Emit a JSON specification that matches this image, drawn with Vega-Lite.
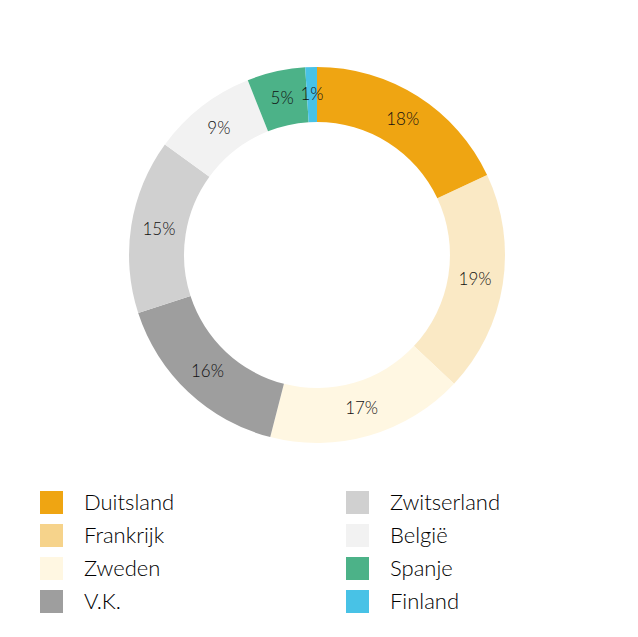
{
  "$schema": "https://vega.github.io/schema/vega-lite/v6.json",
  "width": 634,
  "height": 480,
  "padding": {"left": 0, "top": 15, "right": 4, "bottom": 0},
  "background": "white",
  "config": {"view": {"stroke": null}, "font": "Lato"},
  "data": {"values": [
    {"country": "Duitsland", "pct": 18, "order": 1},
    {"country": "Frankrijk", "pct": 19, "order": 2},
    {"country": "Zweden", "pct": 17, "order": 3},
    {"country": "V.K.", "pct": 16, "order": 4},
    {"country": "Zwitserland", "pct": 15, "order": 5},
    {"country": "België", "pct": 9, "order": 6},
    {"country": "Spanje", "pct": 5, "order": 7},
    {"country": "Finland", "pct": 1, "order": 8}
  ]},
  "transform": [{"calculate": "datum.pct + '%'", "as": "label"}],
  "encoding": {
    "theta": {"field": "pct", "type": "quantitative", "stack": true},
    "order": {"field": "order", "type": "quantitative"},
    "color": {
      "field": "country",
      "type": "nominal",
      "scale": {
        "domain": ["Duitsland", "Frankrijk", "Zweden", "V.K.", "Zwitserland", "België", "Spanje", "Finland"],
        "range": ["#EFA512", "#F6D38B", "#FFF7E2", "#9E9E9E", "#D0D0D0", "#F2F2F2", "#4CB288", "#48C2E6"]
      },
      "legend": {
        "orient": "none",
        "legendX": 40,
        "legendY": 476,
        "columns": 2,
        "title": null,
        "symbolType": "square",
        "symbolSize": 529,
        "symbolStrokeWidth": 0,
        "symbolOpacity": 1,
        "labelFontSize": 22,
        "labelFontWeight": 300,
        "labelOffset": 21,
        "labelColor": "#000000",
        "rowPadding": 10,
        "columnPadding": 171
      }
    }
  },
  "layer": [
    {
      "mark": {"type": "arc", "innerRadius": 133, "outerRadius": 188},
      "encoding": {
        "fillOpacity": {"condition": {"test": "datum.country === 'Frankrijk'", "value": 0.5}, "value": 1}
      }
    },
    {
      "mark": {"type": "text", "radius": 160, "fontSize": 17, "fontWeight": 300},
      "encoding": {
        "text": {"field": "label", "type": "nominal"},
        "color": {"value": "#111111"}
      }
    }
  ]
}
